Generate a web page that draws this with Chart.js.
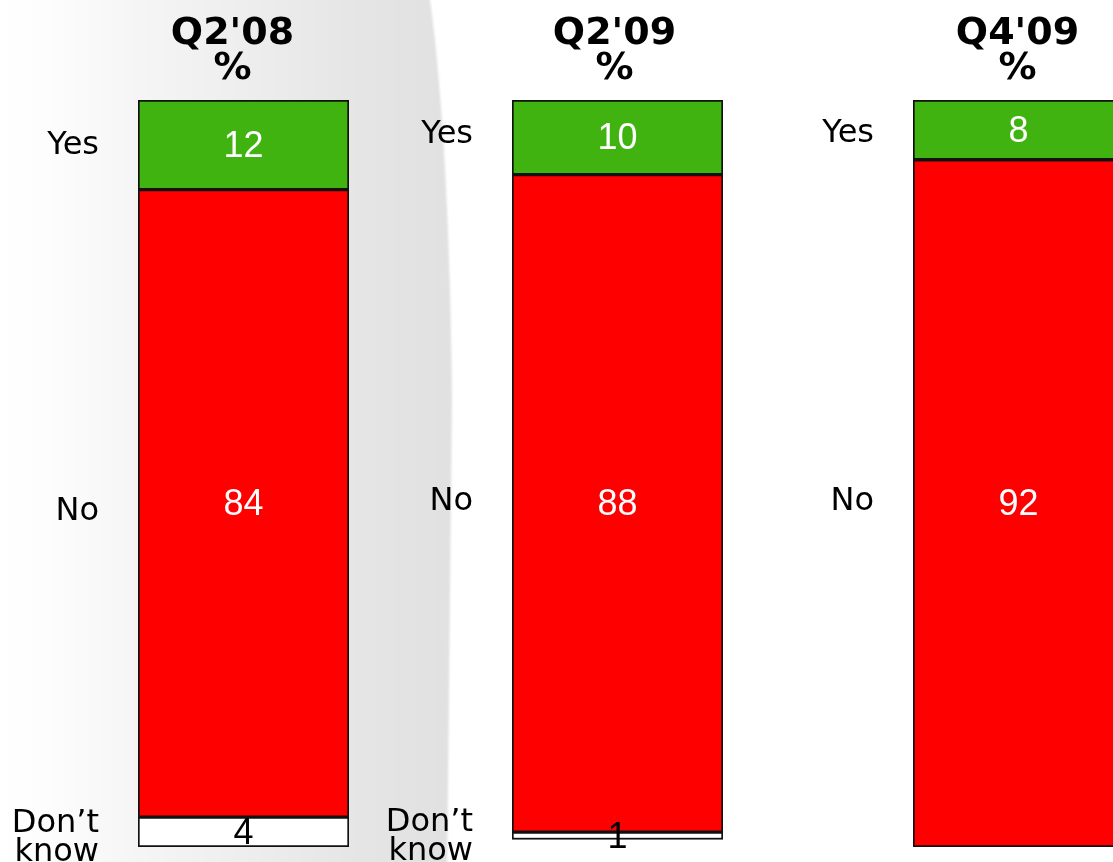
<!DOCTYPE html>
<html>
<head>
<meta charset="utf-8">
<script src="https://cdn.jsdelivr.net/npm/chart.js@4/dist/chart.umd.min.js"></script>
<style>
  html, body { margin: 0; padding: 0; width: 1113px; height: 862px; overflow: hidden; background: #ffffff; }
  #bgwrap { position: absolute; left: -20px; top: -20px; width: 1153px; height: 902px; filter: blur(1.2px); }
  #bg { position: absolute; left: 0; top: 0; width: 1153px; height: 902px;
        background: linear-gradient(to right, #ffffff 0px, #ffffff 20px, #fdfdfd 70px, #f6f6f6 150px, #efefef 250px, #e6e6e6 370px, #e1e1e1 470px);
        clip-path: path('M0 0 L447 0 C460 80 470 220 472 420 L467 902 L0 902 Z'); }
  canvas { position: absolute; top: 0; }
</style>
</head>
<body>
<div id="bgwrap"><div id="bg"></div></div>
<canvas id="c0" width="441" height="862" style="left:-62px"></canvas>
<canvas id="c1" width="441" height="862" style="left:312px"></canvas>
<canvas id="c2" width="441" height="862" style="left:713px"></canvas>
<script>
// ---- data ----
const periods = ["Q2'08", "Q2'09", "Q4'09"];
const answers = ["Yes", "No", "Don\u2019t know"];
const yesValues = [12, 10, 8];
const noValues = [84, 88, 92];
const dontKnowValues = [4, 1, 0];
const unitLabel = "%";

// ---- styling / layout ----
const segColors = ["#41b311", "#ff0000", "#ffffff"];
const valueColors = ["#ffffff", "#ffffff", "#000000"];
const titleShift = [-11, -3, -1];
const answerShift = [[1, 8, 6], [-3, -2, 1], [4, -2, 0]];

const labelPlugin = {
  id: 'segLabels',
  afterDatasetsDraw(chart, args, opts) {
    const ctx = chart.ctx;
    const area = chart.chartArea;
    ctx.save();
    // title
    const cx = (area.left + area.right) / 2 + opts.shift;
    ctx.fillStyle = '#000';
    ctx.textAlign = 'center';
    ctx.textBaseline = 'alphabetic';
    ctx.font = 'bold 38px "DejaVu Sans"';
    ctx.fillText(chart.data.labels[0], cx, 44);
    ctx.fillText(unitLabel, cx, 79);
    chart.data.datasets.forEach((ds, i) => {
      const v = ds.data[0];
      if (!v) return;
      const el = chart.getDatasetMeta(i).data[0];
      const cy = (el.y + el.base) / 2;
      // value
      ctx.textAlign = 'center';
      ctx.textBaseline = 'middle';
      ctx.font = '36px "Liberation Sans", Arial, Helvetica, sans-serif';
      ctx.fillStyle = valueColors[i];
      ctx.fillText(String(v), el.x, cy + 2);
      // answer label
      ctx.textAlign = 'right';
      ctx.font = '32px "DejaVu Sans"';
      ctx.fillStyle = '#000';
      const lines = ds.label.split(' ');
      const lh = 29;
      const ly = cy + opts.ashift[i];
      lines.forEach((ln, k) => {
        ctx.fillText(ln, area.left - 39, ly + (k - (lines.length - 1) / 2) * lh);
      });
    });
    ctx.restore();
  }
};

const valueSets = [yesValues, noValues, dontKnowValues];

periods.forEach((p, idx) => {
  new Chart(document.getElementById('c' + idx), {
    type: 'bar',
    data: {
      labels: [p],
      datasets: answers.map((a, i) => ({
        label: a,
        data: [valueSets[i][idx] || null],
        backgroundColor: segColors[i],
        borderColor: '#111111',
        borderWidth: 2,
        borderSkipped: false,
        barPercentage: 1,
        categoryPercentage: 1
      }))
    },
    options: {
      responsive: false,
      animation: false,
      layout: { padding: { left: 200, right: 30, top: 100, bottom: 15 } },
      scales: {
        x: { stacked: true, display: false },
        y: { stacked: true, display: false, reverse: true, min: 0, max: 100 }
      },
      plugins: {
        legend: { display: false },
        tooltip: { enabled: false },
        segLabels: { shift: titleShift[idx], ashift: answerShift[idx] }
      }
    },
    plugins: [labelPlugin]
  });
});
</script>
</body>
</html>
